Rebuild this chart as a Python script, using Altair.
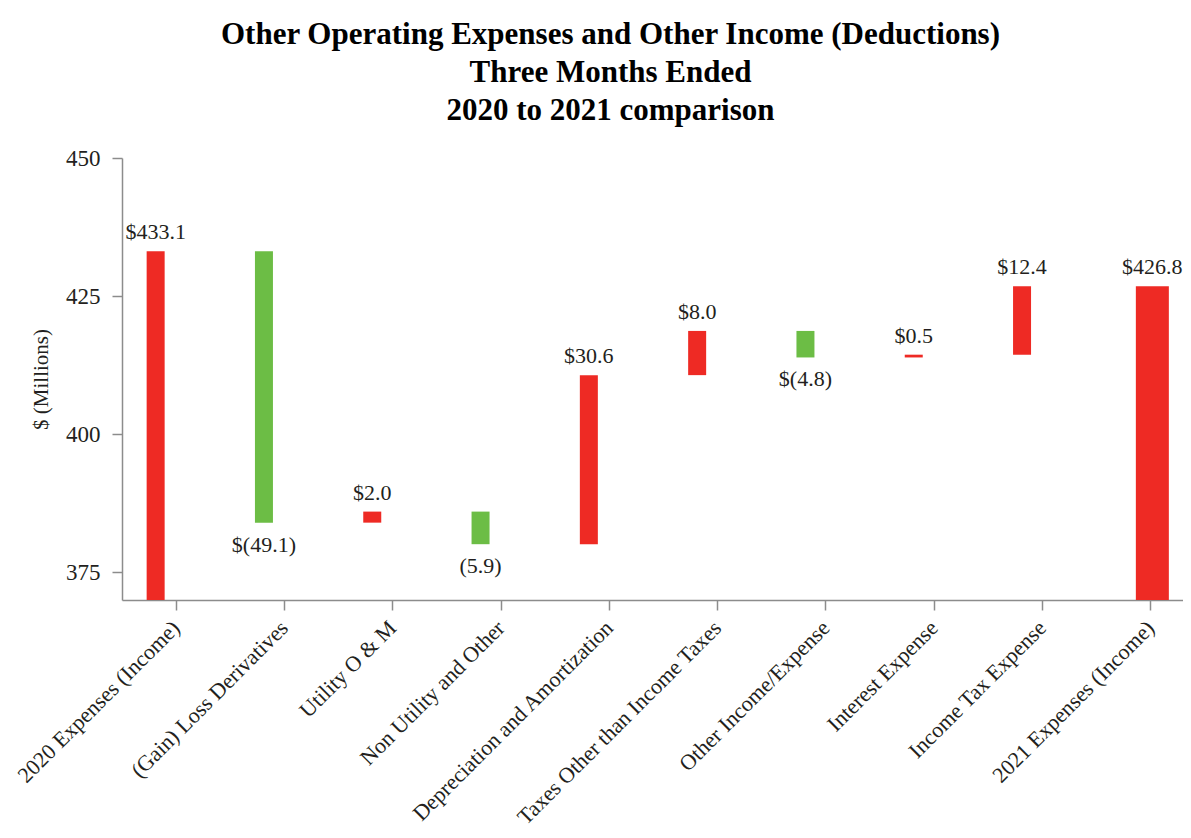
import altair as alt
import pandas as pd

categories = ["2020 Expenses (Income)", "(Gain) Loss Derivatives", "Utility O & M",
              "Non Utility and Other", "Depreciation and Amortization",
              "Taxes Other than Income Taxes", "Other Income/Expense", "Interest Expense",
              "Income Tax Expense", "2021 Expenses (Income)"]
amounts = [433.1, -49.1, 2.0, -5.9, 30.6, 8.0, -4.8, 0.5, 12.4, 426.8]
kinds = ["total", "change", "change", "change", "change", "change", "change", "change", "change", "total"]
labels = ["$433.1", "$(49.1)", "$2.0", "(5.9)", "$30.6", "$8.0", "$(4.8)", "$0.5", "$12.4", "$426.8"]
wide = [False, False, False, False, False, False, False, False, False, True]

rows = []
running = 0.0
for cat, amt, kind, lab, w in zip(categories, amounts, kinds, labels, wide):
    if kind == "total":
        lo, hi = 0.0, amt
        running = amt
        direction = "up"
    else:
        start = running
        running = round(running + amt, 1)
        lo, hi = min(start, running), max(start, running)
        direction = "up" if amt >= 0 else "down"
    rows.append({"cat": cat, "lo": lo, "hi": hi, "kind": kind, "label": lab,
                 "dir": direction, "wide": w, "color": "inc" if amt >= 0 else "dec"})
df = pd.DataFrame(rows)

FONT = "Liberation Serif"
TXT = "#231F20"
AX = "#8c8c8c"

x_enc = alt.X("cat:N", sort=categories, title=None,
              scale=alt.Scale(range=[0, 1083], paddingInner=0, paddingOuter=0),
              axis=alt.Axis(labelAngle=315, labelAlign="right", labelBaseline="middle",
                            labelFontSize=22, labelFont=FONT, labelColor=TXT,
                            labelPadding=14, tickSize=10, tickColor=AX,
                            domainColor=AX, domainWidth=1.5, tickWidth=1.5,
                            labelLimit=400, grid=False))
y_scale = alt.Scale(domain=[370, 450], clamp=True, nice=False, zero=False)
y_enc = alt.Y("lo:Q", scale=y_scale, title="$ (Millions)",
              axis=alt.Axis(values=[375, 400, 425, 450], grid=False, tickSize=10,
                            tickColor=AX, domainColor=AX, domainWidth=1.5,
                            tickWidth=1.5, labelFontSize=23, labelFont=FONT,
                            labelColor=TXT, labelPadding=12, titleFont=FONT,
                            titleFontSize=21, titleFontWeight="normal", titleColor=TXT,
                            titlePadding=14))
color_enc = alt.Color("color:N", scale=alt.Scale(domain=["inc", "dec"],
                                                   range=["#EE2A24", "#6CBD45"]), legend=None)

base = alt.Chart(df)
narrow = alt.datum.wide == False
widef = alt.datum.wide == True

bars_narrow = base.transform_filter(narrow).mark_bar(
    size=18, xOffset=-20.5).encode(x=x_enc, y=y_enc, y2="hi:Q", color=color_enc)
bars_wide = base.transform_filter(widef).mark_bar(
    size=33, xOffset=1.5).encode(x=x_enc, y=y_enc, y2="hi:Q", color=color_enc)

txt_up_narrow = base.transform_filter(narrow & (alt.datum.dir == "up")).mark_text(
    baseline="bottom", dy=-7, xOffset=-20.5, font=FONT, fontSize=22, color=TXT
).encode(x=alt.X("cat:N", sort=categories), y=alt.Y("hi:Q", scale=y_scale), text="label:N")
txt_up_wide = base.transform_filter(widef).mark_text(
    baseline="bottom", dy=-7, xOffset=1.5, font=FONT, fontSize=22, color=TXT
).encode(x=alt.X("cat:N", sort=categories), y=alt.Y("hi:Q", scale=y_scale), text="label:N")
txt_down = base.transform_filter(alt.datum.dir == "down").mark_text(
    baseline="top", dy=12, xOffset=-20.5, font=FONT, fontSize=22, color=TXT
).encode(x=alt.X("cat:N", sort=categories), y=alt.Y("lo:Q", scale=y_scale), text="label:N")

chart = alt.layer(bars_narrow, bars_wide, txt_up_narrow, txt_up_wide, txt_down).properties(
    width=1061, height=442,
    background="white",
    autosize=alt.AutoSizeParams(type="none"),
    padding={"left": 114, "top": 150, "right": 0, "bottom": 230},
    title=alt.TitleParams(
        text=["Other Operating Expenses and Other Income (Deductions)",
              "Three Months Ended", "2020 to 2021 comparison"],
        font=FONT, fontSize=31, fontWeight="bold", color="black", anchor="middle",
        lineHeight=38, dx=-42, offset=20),
).configure_view(stroke=None, strokeWidth=0).configure_axis(grid=False)

chart.save("out.html", embed_options={"renderer": "svg", "actions": False})
